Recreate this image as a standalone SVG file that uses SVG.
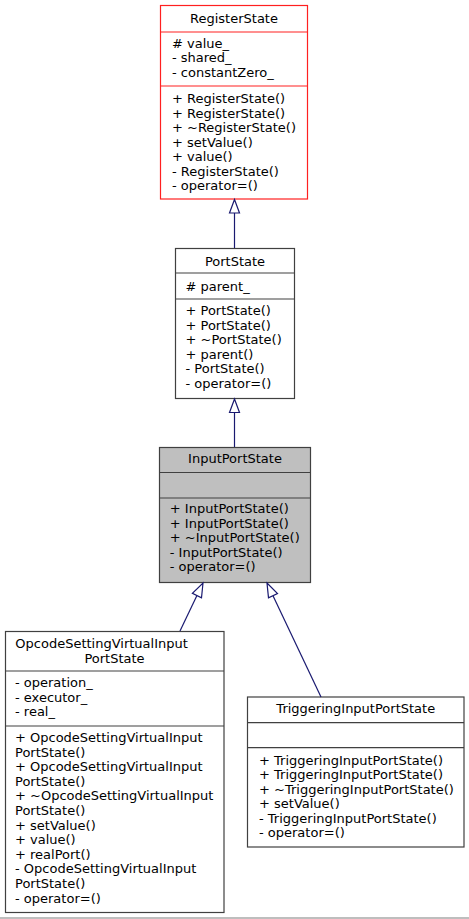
<svg xmlns="http://www.w3.org/2000/svg" width="469" height="919" viewBox="0 0 469 919">
<style>
text{font-family:"DejaVu Sans","Liberation Sans",sans-serif;font-size:13px;fill:#000}
.m{text-anchor:middle}
.box{fill:#fff;stroke:#404040;stroke-width:1.2}
.red{fill:#fff;stroke:#ff2020;stroke-width:1.2}
.grey{fill:#bfbfbf;stroke:#404040;stroke-width:1.2}
.dl{stroke:#404040;stroke-width:1.2}
.dr{stroke:#ff2020;stroke-width:1.2}
.edge line{stroke:#191970;stroke-width:1.2}
.edge polygon{fill:#fff;stroke:#191970;stroke-width:1.2}
</style>
<rect width="469" height="919" fill="#fff"/>
<g id="RegisterState">
<rect class="red" x="160.5" y="5.5" width="147" height="193.5"/>
<line class="dr" x1="160.5" y1="32" x2="307.5" y2="32"/>
<line class="dr" x1="160.5" y1="86" x2="307.5" y2="86"/>
<text class="m" x="234" y="22.5">RegisterState</text>
<text x="172" y="47.5"># value_</text>
<text x="172" y="62">- shared_</text>
<text x="172" y="76.5">- constantZero_</text>
<text x="172" y="103">+ RegisterState()</text>
<text x="172" y="117.5">+ RegisterState()</text>
<text x="172" y="132">+ ~RegisterState()</text>
<text x="172" y="146.5">+ setValue()</text>
<text x="172" y="161">+ value()</text>
<text x="172" y="175.5">- RegisterState()</text>
<text x="172" y="190">- operator=()</text>
</g>
<g id="PortState">
<rect class="box" x="175.5" y="248.5" width="119" height="150"/>
<line class="dl" x1="175.5" y1="273" x2="294.5" y2="273"/>
<line class="dl" x1="175.5" y1="299" x2="294.5" y2="299"/>
<text class="m" x="235" y="265.5">PortState</text>
<text x="185.5" y="290.5"># parent_</text>
<text x="185.5" y="315.2">+ PortState()</text>
<text x="185.5" y="329.8">+ PortState()</text>
<text x="185.5" y="344.3">+ ~PortState()</text>
<text x="185.5" y="358.9">+ parent()</text>
<text x="185.5" y="373.4">- PortState()</text>
<text x="185.5" y="388">- operator=()</text>
</g>
<g id="InputPortState">
<rect class="grey" x="159.5" y="447.5" width="151" height="135"/>
<line class="dl" x1="159.5" y1="472.5" x2="310.5" y2="472.5"/>
<line class="dl" x1="159.5" y1="498" x2="310.5" y2="498"/>
<text class="m" x="235" y="463.3">InputPortState</text>
<text x="169.8" y="513">+ InputPortState()</text>
<text x="169.8" y="527.5">+ InputPortState()</text>
<text x="169.8" y="542.1">+ ~InputPortState()</text>
<text x="169.8" y="556.6">- InputPortState()</text>
<text x="169.8" y="571.2">- operator=()</text>
</g>
<g id="OpcodeSettingVirtualInputPortState">
<rect class="box" x="5.5" y="631.5" width="218.5" height="281"/>
<line class="dl" x1="5.5" y1="671" x2="224" y2="671"/>
<line class="dl" x1="5.5" y1="726" x2="224" y2="726"/>
<text x="15.3" y="648">OpcodeSettingVirtualInput</text>
<text class="m" x="114.5" y="662.5">PortState</text>
<text x="15" y="687.3">- operation_</text>
<text x="15" y="701.8">- executor_</text>
<text x="15" y="716.4">- real_</text>
<text x="15" y="741.9">+ OpcodeSettingVirtualInput</text>
<text x="15" y="756.5">PortState()</text>
<text x="15" y="771.1">+ OpcodeSettingVirtualInput</text>
<text x="15" y="785.7">PortState()</text>
<text x="15" y="800.3">+ ~OpcodeSettingVirtualInput</text>
<text x="15" y="814.9">PortState()</text>
<text x="15" y="829.5">+ setValue()</text>
<text x="15" y="844.1">+ value()</text>
<text x="15" y="858.7">+ realPort()</text>
<text x="15" y="873.3">- OpcodeSettingVirtualInput</text>
<text x="15" y="887.9">PortState()</text>
<text x="15" y="902.5">- operator=()</text>
</g>
<g id="TriggeringInputPortState">
<rect class="box" x="247.5" y="697" width="216.5" height="150"/>
<line class="dl" x1="247.5" y1="722.7" x2="464" y2="722.7"/>
<line class="dl" x1="247.5" y1="747.7" x2="464" y2="747.7"/>
<text class="m" x="355.75" y="712.9">TriggeringInputPortState</text>
<text x="259" y="764.6">+ TriggeringInputPortState()</text>
<text x="259" y="779.2">+ TriggeringInputPortState()</text>
<text x="259" y="793.7">+ ~TriggeringInputPortState()</text>
<text x="259" y="808.3">+ setValue()</text>
<text x="259" y="822.8">- TriggeringInputPortState()</text>
<text x="259" y="837.4">- operator=()</text>
</g>
<g id="connectors" class="edge">
<line x1="234.5" y1="248" x2="234.5" y2="213"/>
<polygon points="234.5,199.5 229.5,213 239.5,213"/>
<line x1="234.5" y1="447" x2="234.5" y2="412.5"/>
<polygon points="234.5,399 229.5,412.5 239.5,412.5"/>
<line x1="180" y1="631" x2="196.95" y2="595.6"/>
<polygon points="203,583 201.5,597.8 192.4,593.4"/>
<line x1="321" y1="697" x2="273" y2="595.7"/>
<polygon points="267,583 277.5,593.5 268.5,597.8"/>
</g>
<line x1="0" y1="918" x2="469" y2="918" stroke="#a8a8a8" stroke-width="1.5"/>
</svg>
